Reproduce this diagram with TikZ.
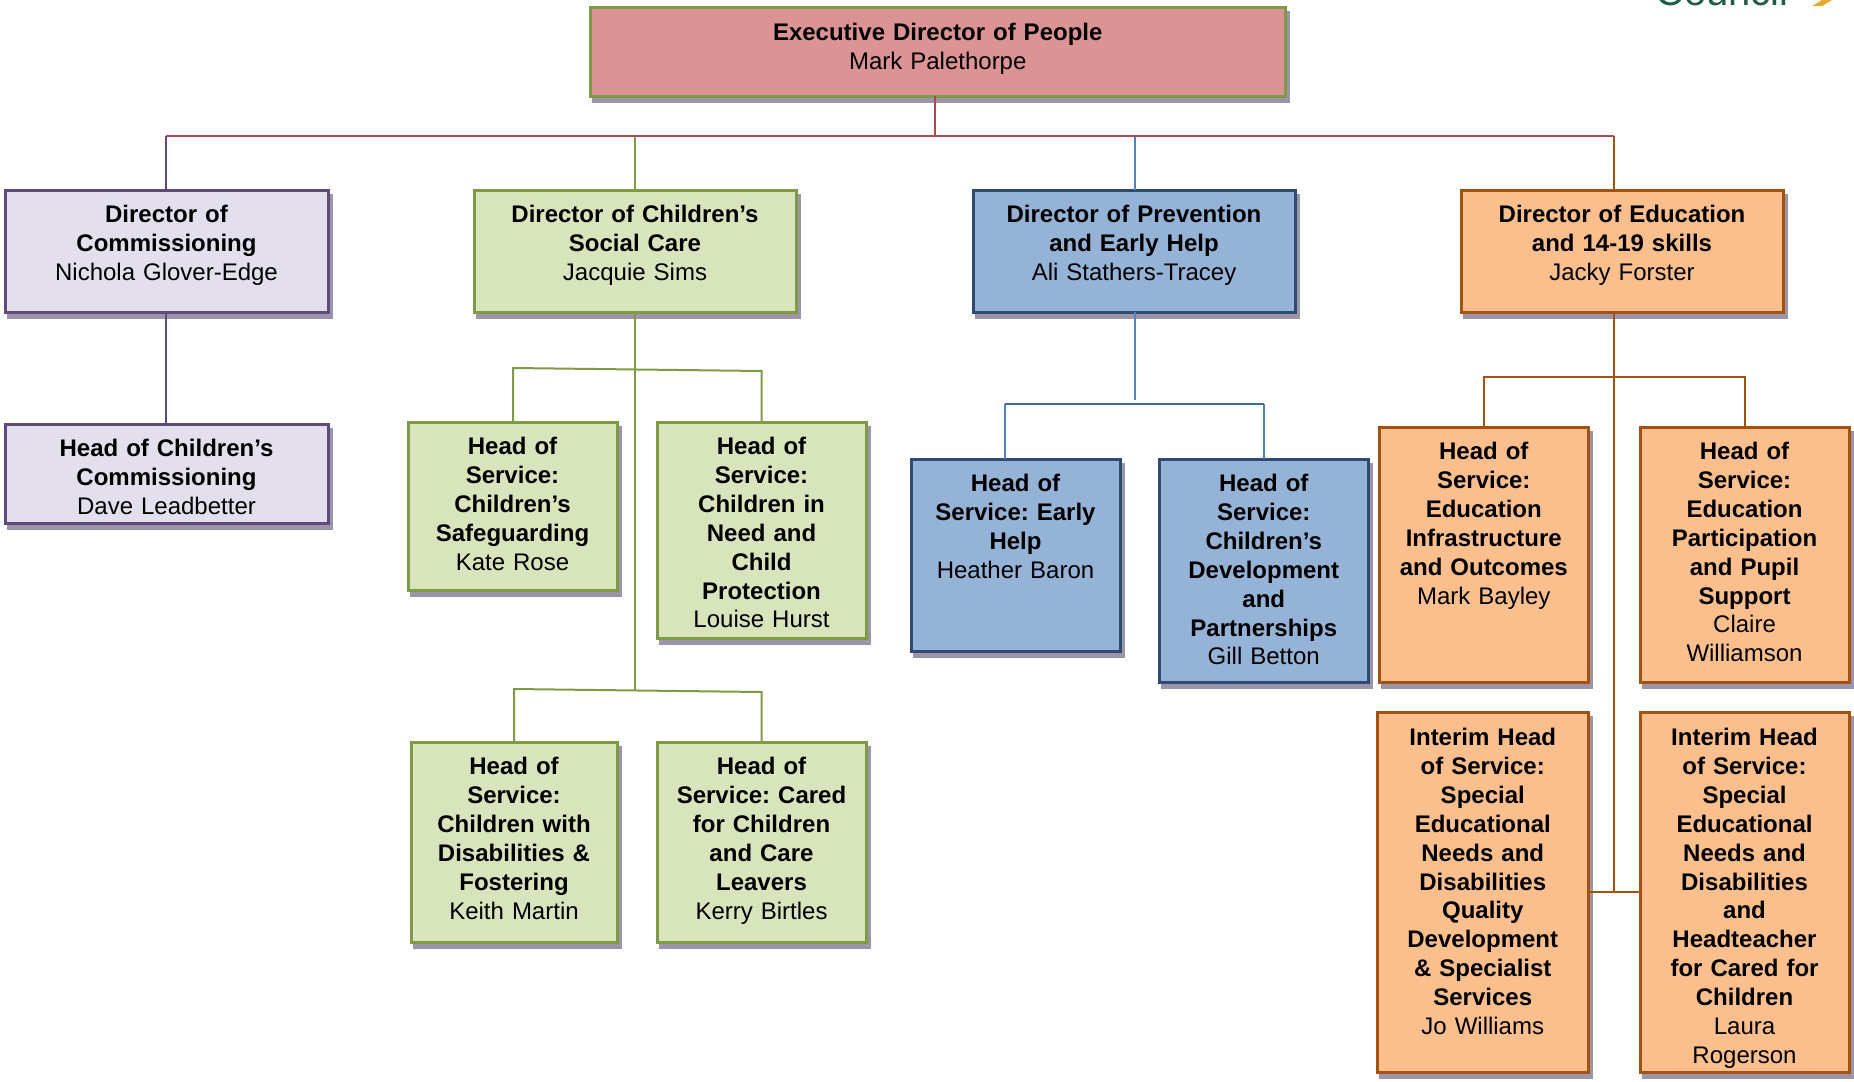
\documentclass[tikz,border=0pt]{standalone}
\usepackage{fontspec}
\setmainfont{Liberation Sans}
\usetikzlibrary{shadows}
\definecolor{shadowgrey}{HTML}{9C94A8}
\definecolor{commline}{HTML}{604A7B}
\definecolor{commfill}{HTML}{E4DFEC}
\definecolor{careline}{HTML}{7F9A44}
\definecolor{carefill}{HTML}{D8E4BC}
\definecolor{prevline}{HTML}{2F4B73}
\definecolor{prevwire}{HTML}{5482BC}
\definecolor{prevbar}{HTML}{3F6AA0}
\definecolor{prevfill}{HTML}{95B3D7}
\definecolor{eduline}{HTML}{A4520F}
\definecolor{edufill}{HTML}{FBBF8E}
\definecolor{execfill}{HTML}{DB9493}
\definecolor{execwire}{HTML}{A94B4E}
\definecolor{councilgreen}{HTML}{1F5C4A}
\definecolor{councilgold}{HTML}{E8A92E}
\tikzset{
  orgbox/.style 2 args={anchor=north west,inner sep=0pt,outer sep=0pt,align=center,
    text width=#1pt,text height=32.5pt,text depth=#2pt-32.5pt,line width=3pt,
    copy shadow={shadow xshift=3pt,shadow yshift=-5pt,draw=shadowgrey,fill=shadowgrey}},
  wire/.style={line width=2pt}
}
\begin{document}
\frenchspacing
\begin{tikzpicture}[x=1pt,y=-1pt,font=\fontsize{24}{28.9}\selectfont]
\useasboundingbox (0,0) rectangle (1854,1081);

\node[anchor=base west,inner sep=0pt,font=\fontsize{40}{44}\selectfont,text=councilgreen] (council) at (1655,6) {Council};
\fill[councilgold] (1812,6) -- (1822,0) -- (1832,0) -- (1822,6) -- cycle;

% top of the chart
\node[orgbox={695.5}{88},draw=careline,fill=execfill] (exec) at (590,8) {\textbf{Executive Director of People}\\Mark Palethorpe};
\coordinate (busleft) at (166,136);
\coordinate (busmid) at (934.5,136);
\coordinate (busright) at (1614,136);

% commissioning
\begin{scope}[every node/.append style={draw=commline,fill=commfill}]
\node[orgbox={323}{122}] (director1) at (5,190) {\textbf{Director of\\Commissioning}\\Nichola Glover-Edge};
\node[orgbox={323}{99}] (commhead) at (5,424) {\textbf{Head of Children’s\\Commissioning}\\Dave Leadbetter};
\end{scope}
\draw[wire,commline] (busleft) -- (busleft |- director1.north);
\draw[wire,commline] (director1.south -| busleft) -- (commhead.north -| busleft);

% social care
\begin{scope}[every node/.append style={draw=careline,fill=carefill}]
\node[orgbox={322}{122}] (director2) at (474,190) {\textbf{Director of Children’s\\Social Care}\\Jacquie Sims};
\node[orgbox={209}{168}] (safe) at (408,422) {\textbf{Head of\\Service:\\Children’s\\Safeguarding}\\Kate Rose};
\node[orgbox={209}{216}] (need) at (657,422) {\textbf{Head of\\Service:\\Children in\\Need and\\Child\\Protection}\\Louise Hurst};
\node[orgbox={206}{200}] (disab) at (411,742) {\textbf{Head of\\Service:\\Children with\\Disabilities \&\\Fostering}\\Keith Martin};
\node[orgbox={209}{200}] (cared) at (657,742) {\textbf{Head of\\Service: Cared\\for Children\\and Care\\Leavers}\\Kerry Birtles};
\end{scope}
\coordinate (careup1) at (513,368);
\coordinate (careup2) at (761.5,371);
\coordinate (carelow1) at (514,689);
\coordinate (carelow2) at (761.5,692);
\coordinate (carejoin) at (635,690);
\begin{scope}[wire,careline]
\draw (director2.south) -- (carejoin);
\draw (director2.north) -- (director2.north |- busleft);
\draw (need.north -| careup2) -- (careup2) -- (careup1) -- (safe.north -| careup1);
\draw (cared.north -| carelow2) -- (carelow2) -- (carelow1) -- (disab.north -| carelow1);
\end{scope}

% prevention
\begin{scope}[every node/.append style={draw=prevline,fill=prevfill}]
\node[orgbox={322}{122}] (director3) at (973,190) {\textbf{Director of Prevention\\and Early Help}\\Ali Stathers-Tracey};
\node[orgbox={209}{192}] (early) at (911,459) {\textbf{Head of\\Service: Early\\Help}\\Heather Baron};
\node[orgbox={209.5}{223}] (develop) at (1159,459) {\textbf{Head of\\Service:\\Children’s\\Development\\and\\Partnerships}\\Gill Betton};
\end{scope}
\coordinate (prevend) at (1135,400);
\coordinate (prevleft) at (1005,404);
\coordinate (prevright) at (1264,404);
\begin{scope}[wire,prevwire]
\draw (prevend |- busleft) -- (director3.north -| prevend);
\draw (director3.south -| prevend) -- (prevend);
\draw (early.north -| prevleft) -- (prevleft);
\draw (prevright) -- (develop.north -| prevright);
\draw[prevbar] (prevleft) -- (prevright);
\end{scope}

% education
\begin{scope}[every node/.append style={draw=eduline,fill=edufill}]
\node[orgbox={322}{122}] (director4) at (1461,190) {\textbf{Director of Education\\and 14-19 skills}\\Jacky Forster};
\node[orgbox={209.5}{255}] (infra) at (1379,427) {\textbf{Head of\\Service:\\Education\\Infrastructure\\and Outcomes}\\Mark Bayley};
\node[orgbox={209}{255}] (partic) at (1640,427) {\textbf{Head of\\Service:\\Education\\Participation\\and Pupil\\Support}\\Claire\\Williamson};
\node[orgbox={211.5}{360},text height=33.5pt,text depth=326.5pt] (interim1) at (1377,712) {\textbf{Interim Head\\of Service:\\Special\\Educational\\Needs and\\Disabilities\\Quality\\Development\\\& Specialist\\Services}\\Jo Williams};
\node[orgbox={209}{360},text height=33.5pt,text depth=326.5pt] (interim2) at (1640,712) {\textbf{Interim Head\\of Service:\\Special\\Educational\\Needs and\\Disabilities\\and\\Headteacher\\for Cared for\\Children}\\Laura\\Rogerson};
\end{scope}
\coordinate (eduleft) at (1483.5,377);
\coordinate (eduright) at (1744.5,377);
\coordinate (edujoin) at (1614,892);
\begin{scope}[wire,eduline]
\draw (busright) -- (director4.north -| busright);
\draw (director4.south -| busright) -- (edujoin);
\draw (infra.north -| eduleft) -- (eduleft) -- (eduright) -- (partic.north -| eduright);
\draw (interim1.east |- edujoin) -- (interim2.west |- edujoin);
\end{scope}

\draw[wire,execwire] (exec.south -| busmid) -- (busmid);
\draw[wire,execwire] (busleft) -- (busright);

\end{tikzpicture}
\end{document}
